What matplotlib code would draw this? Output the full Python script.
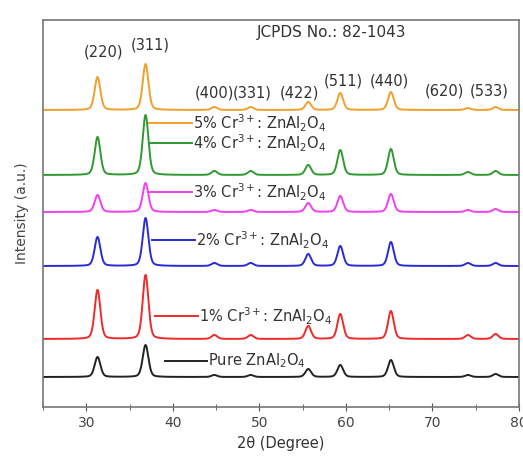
import numpy as np
import matplotlib.pyplot as plt

# peak positions (2theta) and Miller indices of spinel ZnAl2O4
peaks = [31.3, 36.85, 44.8, 49.0, 55.65, 59.35, 65.2, 74.1, 77.3]
hkl = ['(220)', '(311)', '(400)', '(331)', '(422)', '(511)', '(440)', '(620)', '(533)']

# sample names, colours, baseline offsets and peak heights (a.u.)
samples = ['5% Cr$^{3+}$: ZnAl$_2$O$_4$', '4% Cr$^{3+}$: ZnAl$_2$O$_4$',
           '3% Cr$^{3+}$: ZnAl$_2$O$_4$', '2% Cr$^{3+}$: ZnAl$_2$O$_4$',
           '1% Cr$^{3+}$: ZnAl$_2$O$_4$', 'Pure ZnAl$_2$O$_4$']
colors = ['#f0a02c', '#2f9a2f', '#f040f0', '#2a2ad8', '#ee2a2a', '#222222']
offsets = [297, 232, 195, 141, 68, 30]
heights = [
    [33, 46, 3, 3, 8, 17, 18, 2, 3],
    [38, 60, 4, 4, 10, 25, 26, 3, 4],
    [17, 29, 2, 2, 9, 16, 18, 2, 3],
    [29, 48, 3, 3, 12, 20, 24, 3, 3],
    [49, 64, 4, 4, 13, 25, 28, 4, 5],
    [20, 32, 2, 2, 8, 12, 17, 2, 3],
]
# label anchor: (line start x, line end x, y) per sample
label_pos = [(37.2, 42.2, 284), (37.2, 42.2, 264), (37.2, 42.2, 215),
             (37.6, 42.6, 167), (37.9, 42.9, 91), (39.1, 44.0, 46)]

hkl_pos = [(32.0, 355), (37.4, 362), (44.8, 314), (49.2, 314), (54.6, 314),
           (59.7, 326), (65.0, 326), (71.4, 316), (76.6, 316)]


def pattern(x, h, w=0.78):
    y = np.zeros_like(x)
    for p, a in zip(peaks, h):
        y += a * (0.3 / (1 + ((x - p) / (w / 2)) ** 2)
                  + 0.7 * np.exp(-np.log(2) * ((x - p) / (w / 2)) ** 2))
    return y


plt.rcParams['font.family'] = 'DejaVu Sans'
fig = plt.figure(figsize=(5.23, 4.59), dpi=100)
ax = fig.add_axes([43 / 523, 52 / 459, 476 / 523, 387 / 459])

tt = np.arange(25, 80.001, 0.02)
for name, c, off, h, lp in zip(samples, colors, offsets, heights, label_pos):
    ax.plot(tt, off + pattern(tt, h), color=c, lw=1.4)
    ax.plot([lp[0], lp[1]], [lp[2], lp[2]], color=c, lw=1.4)
    ax.text(lp[1] + 0.1, lp[2], name, color='#333333', fontsize=10.5,
            va='center', ha='left')

for lab, (px, py) in zip(hkl, hkl_pos):
    ax.text(px, py, lab, fontsize=10.5, color='#333333', ha='center', va='center')

ax.text(58.4, 374, 'JCPDS No.: 82-1043', fontsize=11, color='#333333',
        ha='center', va='center')

ax.set_xlim(25, 80)
ax.set_ylim(0, 387)
ax.set_xticks(np.arange(30, 81, 10))
ax.set_xticks(np.arange(25, 81, 5), minor=True)
ax.set_yticks([])
ax.tick_params(axis='x', direction='inout', length=6, labelsize=10,
               colors='#555555', labelcolor='#444444')
ax.tick_params(axis='x', which='minor', direction='inout', length=4, colors='#555555')
for s in ax.spines.values():
    s.set_color('#777777')
    s.set_linewidth(1.2)
ax.set_xlabel('2θ (Degree)', fontsize=10.5, color='#333333', labelpad=4)
ax.set_ylabel('Intensity (a.u.)', fontsize=10, color='#444444', labelpad=10)

plt.savefig('out.png', dpi=100)
